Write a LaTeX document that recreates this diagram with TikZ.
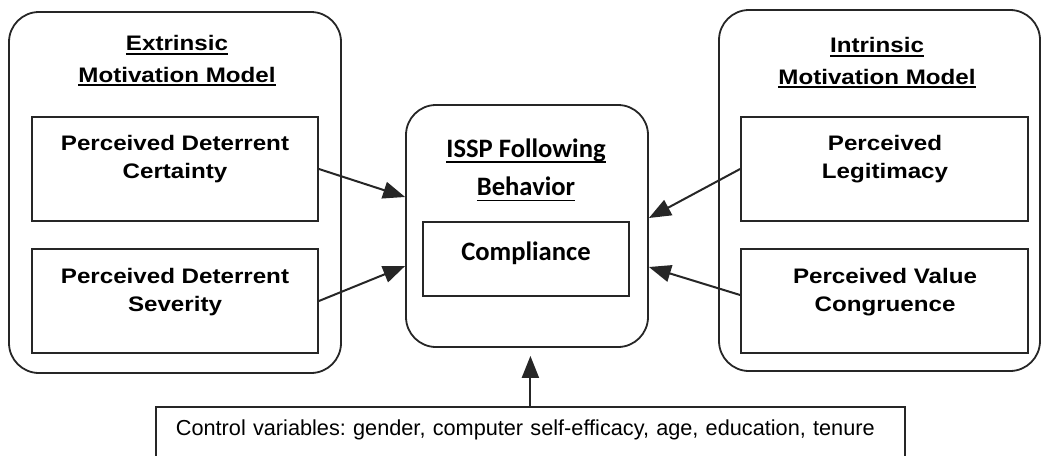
\documentclass[tikz,border=0pt]{standalone}
\usepackage{fontspec}
\newfontfamily\modelfont{Liberation Sans}[FakeStretch=1.15]
\newfontfamily\behfont{Carlito}
\newfontfamily\ctrlfont{Liberation Sans}
\usetikzlibrary{arrows.meta}

% underline with a heavier rule
\newcommand{\uln}[2][2pt]{\setbox0\hbox{#2}\rlap{\rule[-#1]{\wd0}{0.9pt}}\box0}

\tikzset{
  modelbox/.style={draw=black!85, line width=0.9pt, rounded corners=15pt, minimum height=180.5pt},
  behbox/.style={draw=black!85, line width=0.9pt, rounded corners=15pt, minimum width=121pt, minimum height=121pt},
  varbox/.style={draw=black!85, line width=0.9pt, minimum height=52pt},
  compbox/.style={draw=black!85, line width=0.9pt, minimum width=103pt, minimum height=37pt},
  ctrlbox/.style={draw=black!85, line width=0.9pt, inner xsep=10pt, inner ysep=6.3pt, text width=354.5pt, align=left, text depth=30pt},
  titletext/.style={inner sep=0pt, align=center, font=\modelfont\bfseries\fontsize{10.5}{15.8}\selectfont},
  vartext/.style={inner sep=0pt, align=center, font=\modelfont\bfseries\fontsize{10.5}{14}\selectfont},
  behtext/.style={inner sep=0pt, align=center, font=\behfont\bfseries\fontsize{13.3}{19.4}\selectfont},
  link/.style={->, draw=black!85, line width=1pt}
}

\begin{document}
\begin{tikzpicture}[x=0.5pt, y=-0.5pt, >={Triangle[length=11pt, width=8.5pt]}]
  \useasboundingbox (0,0) rectangle (1042,455);

  % extrinsic motivation model
  \node[modelbox, minimum width=166pt] (extr) at (175,192.5) {};
  \node[titletext, anchor=north] (extrtitle) at (177,35) {\uln{Extrinsic}\\\uln{Motivation Model}};
  \node[varbox, minimum width=143pt] (cert) at (175,169) {};
  \node[vartext, anchor=north] (certtext) at (175,135) {Perceived Deterrent\\Certainty};
  \node[varbox, minimum width=143pt] (sev) at (175,301) {};
  \node[vartext, anchor=north] (sevtext) at (175,268) {Perceived Deterrent\\Severity};

  % ISSP following behavior
  \node[behbox] (beh) at (527,226) {};
  \node[behtext, anchor=north] (behtitle) at (526,138) {\uln[2.8pt]{ISSP Following}\\\uln[2.8pt]{Behavior}};
  \node[compbox] (comp) at (526,259) {};
  \node[behtext, anchor=north] (comptext) at (526,241) {Compliance};

  % intrinsic motivation model
  \node[modelbox, minimum width=160.5pt] (intr) at (879.5,190.5) {};
  \node[titletext, anchor=north] (intrtitle) at (877,37) {\uln{Intrinsic}\\\uln{Motivation Model}};
  \node[varbox, minimum width=143.5pt] (leg) at (884.5,169) {};
  \node[vartext, anchor=north] (legtext) at (885,135) {Perceived\\Legitimacy};
  \node[varbox, minimum width=143.5pt] (val) at (884.5,301) {};
  \node[vartext, anchor=north] (valtext) at (885,268) {Perceived Value\\Congruence};

  % control variables
  \node[ctrlbox, anchor=north west, font=\ctrlfont\fontsize{10.85}{12}\selectfont\frenchspacing] (ctrl) at (155,406)
    {Control variables: gender, computer self-efficacy, age, education, tenure};

  % links
  \draw[link] (cert.east) -- ([yshift=14.5pt]beh.west);
  \draw[link] (sev.east) -- ([yshift=-20pt]beh.west);
  \draw[link] (leg.west) -- ([yshift=4pt]beh.east);
  \draw[link] ([yshift=3pt]val.west) -- ([yshift=-20.5pt]beh.east);
  \draw[link, shorten >=4pt] (ctrl.north) -- (ctrl.north |- beh.south);
\end{tikzpicture}
\end{document}
